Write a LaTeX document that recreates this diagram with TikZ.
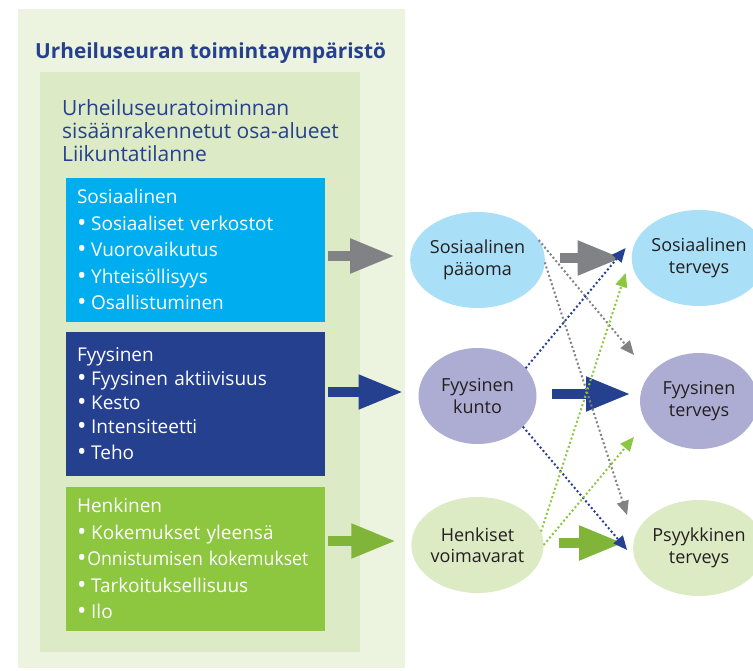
\documentclass[tikz,border=0pt]{standalone}
\usepackage{fontspec}
\setmainfont{Open Sans}
\usetikzlibrary{arrows.meta,shapes.geometric}
\definecolor{envgreen}{HTML}{ECF3DE}
\definecolor{areagreen}{HTML}{DDEAC6}
\definecolor{socblue}{HTML}{00AEEF}
\definecolor{physblue}{HTML}{25408F}
\definecolor{mindgreen}{HTML}{8DC63F}
\definecolor{arrowgray}{HTML}{808285}
\definecolor{arrowgreen}{HTML}{80B53A}
\definecolor{soclight}{HTML}{AADFF8}
\definecolor{physlight}{HTML}{ADADD3}
\definecolor{mindlight}{HTML}{DDEBC4}
\definecolor{inktext}{HTML}{231F20}
\newcommand{\bul}{\raisebox{-0.05em}{\fontsize{25}{0}\selectfont •}\hspace{0.25em}}

\begin{document}
\begin{tikzpicture}[x=1pt,y=-1pt,
  area/.style = {rectangle,inner sep=0pt,outer sep=0pt,anchor=north west},
  panel/.style = {area,inner xsep=11pt,minimum width=259pt,minimum height=144pt,text width=237pt,align=left,text=white,font=\fontsize{19}{26.5}\selectfont},
  blob/.style = {ellipse,inner sep=0pt,outer sep=0pt,minimum width=118pt,minimum height=96pt,align=center,text=inktext,font=\fontsize{18}{21.5}\selectfont},
  bigarrow/.style = {line width=10.5pt,-{Triangle[length=45pt,width=32pt]}},
  dotarrow/.style = {line width=2pt,dash pattern=on 2pt off 2.4pt,-{Triangle[length=14pt,width=12pt]}}]
\useasboundingbox (0,0) rectangle (753,670);
\node[area,fill=envgreen,minimum width=387pt,minimum height=659pt] (env) at (18,9) {};
\node[area,fill=areagreen,minimum width=320pt,minimum height=580pt] (sub) at (40,72) {};
\node[anchor=base west,inner sep=0pt,text=physblue,font=\bfseries\fontsize{20.8}{24}\selectfont] (envtitle) at (35,58) {Urheiluseuran toimintaympäristö};
\foreach \t [count=\i from 0] in {Urheiluseuratoiminnan, sisäänrakennetut osa-alueet, Liikuntatilanne}
    \node[anchor=base west,inner sep=0pt,text=physblue,font=\fontsize{21}{23}\selectfont] (subtitle\i) at (62,115+23*\i) {\t};
% osa-alueet
\foreach \n/\y/\c/\t in {social/178/socblue/{Sosiaalinen\\\bul Sosiaaliset verkostot\\\bul Vuorovaikutus\\\bul Yhteisöllisyys\\\bul Osallistuminen},
    physical/332/physblue/{\fontsize{19}{24}\selectfont Fyysinen\\\bul Fyysinen aktiivisuus\\\bul Kesto\\\bul Intensiteetti\\\bul Teho},
    mental/487/mindgreen/{Henkinen\\\bul Kokemukset yleensä\\\bul\hspace{-0.2em}\scalebox{0.93}[1]{Onnistumisen kokemukset}\\\bul Tarkoituksellisuus\\\bul Ilo}}
    \node[panel,fill=\c] (\n) at (66,\y) {\t};
% voimavarat ja terveys
\foreach \n/\x/\y/\c/\t in {capital/477.5/260/soclight/{Sosiaalinen\\pääoma},
    fitness/477.5/396/physlight/{Fyysinen\\kunto},
    resources/477.5/545/mindlight/{Henkiset\\voimavarat},
    sochealth/699/258/soclight/{Sosiaalinen\\terveys},
    physhealth/699/401/physlight/{Fyysinen\\terveys},
    menthealth/699/548/mindlight/{Psyykkinen\\terveys}}
    \node[blob,fill=\c] (\n) at (\x,\y) {\t};
\foreach \a/\b/\c/\d in {social/capital/sochealth/arrowgray, physical/fitness/physhealth/physblue, mental/resources/menthealth/arrowgreen} {
    \draw[bigarrow,\d] ([xshift=3pt,yshift=4pt]\a.east |- \b.west) -- ([xshift=-15pt,yshift=4pt]\b.west);
    \draw[bigarrow,\d] ([xshift=15pt,yshift=2pt]\b.east) -- ([xshift=-9pt,yshift=2pt]\c.west |- \b.east);
}
\foreach \a/\p/\b/\dy/\c in {capital/18/physhealth/46/arrowgray, capital/-2/menthealth/33/arrowgray,
    fitness/30/sochealth/10/physblue, fitness/-34/menthealth/-2/physblue,
    resources/12/sochealth/-15/mindgreen, resources/0/physhealth/-36/mindgreen}
    \draw[dotarrow,\c] (\a.\p) -- ([xshift=-6pt,yshift=\dy pt]\b.west);
\end{tikzpicture}
\end{document}
